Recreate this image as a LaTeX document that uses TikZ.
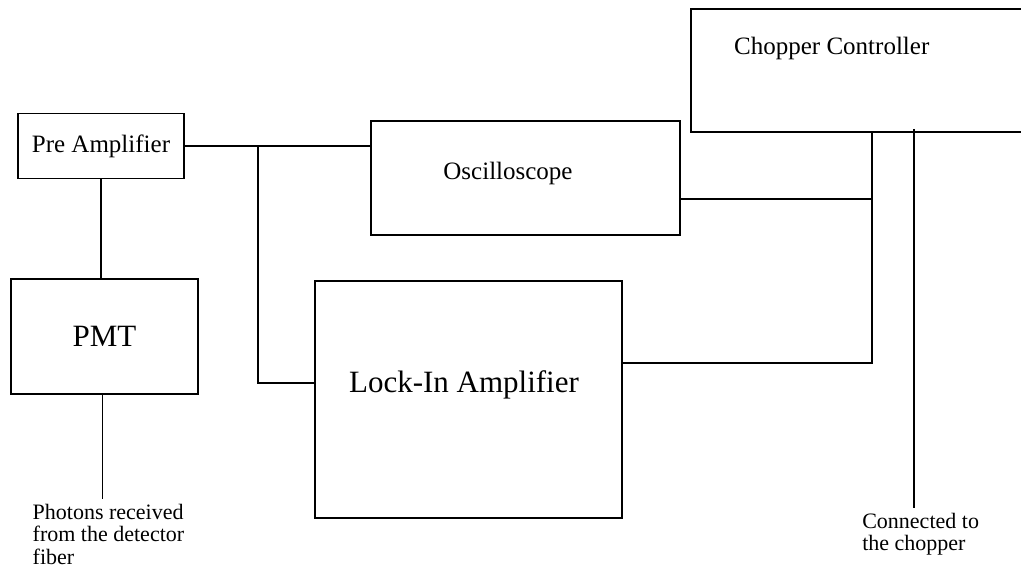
\documentclass[tikz,border=0pt]{standalone}
\usepackage{fontspec}
\setmainfont{Liberation Serif}
\usetikzlibrary{positioning, calc}

\begin{document}
\begin{tikzpicture}[x=1pt, y=1pt,
  blk/.style={rectangle, draw=black, line width=1.8pt, inner sep=0pt, font=\fontsize{25}{30}\selectfont},
  txt/.style={inner sep=0pt, font=\fontsize{25}{30}\selectfont},
  bigtxt/.style={font=\fontsize{31}{36}\selectfont},
  note/.style={inner sep=0pt, align=left, font=\fontsize{22}{22.5}\selectfont},
  wire/.style={line width=1.8pt, draw=black}
]
\useasboundingbox (0,0) rectangle (1021,573);
\clip (0,0) rectangle (1021,573);
% blocks
\node[blk, minimum width=166, minimum height=65] (preamp) at (101,427) {Pre Amplifier};
\node[blk, bigtxt, minimum width=187, minimum height=115] (pmt) at (104.5,236.5) {PMT};
\node[blk, minimum width=309, minimum height=114] (osc) at (525.5,395) {};
\node[txt] (osctxt) at (508,400) {Oscilloscope};
\node[blk, minimum width=307, minimum height=237] (lockin) at (468.5,173.5) {};
\node[txt, bigtxt] (lockintxt) at (464,188) {Lock-In Amplifier};
\node[blk, minimum width=339, minimum height=123] (chopper) at (860.5,502.5) {};
\node[txt, anchor=west] (choptxt) at (734,525) {Chopper Controller};
% signal side
\coordinate (split) at ($(preamp.east)+(73,0)$);
\coordinate (lockinin) at ($(lockin.west)+(0,16.5)$);
\draw[wire] (preamp.east) -- (preamp.east -| osc.west);
\draw[wire] (split) |- (lockinin);
\draw[wire] (preamp.south) -- (preamp.south |- pmt.north);
\coordinate (pmtend) at ($(pmt.south)+(-2,-104)$);
\draw[wire] (pmt.south -| pmtend) -- (pmtend);
\node[note, anchor=north west] (photons) at ($(pmtend)+(-70,-5)$) {Photons received\\from the detector\\fiber};
% reference side
\coordinate (ref) at ($(chopper.south west)+(182,0)$);
\coordinate (oscout) at ($(osc.east)+(0,-21)$);
\coordinate (lockout) at ($(lockin.east)+(0,36.5)$);
\draw[wire] (ref) |- (lockout);
\draw[wire] (oscout) -- (oscout -| ref);
\coordinate (sync) at ($(chopper.south west)+(224,4)$);
\coordinate (syncend) at ($(sync)+(0,-379)$);
\draw[wire] (sync) -- (syncend);
\node[note, anchor=north west] (chopnote) at ($(syncend)+(-52,-5)$) {Connected to\\the chopper};
\end{tikzpicture}
\end{document}
